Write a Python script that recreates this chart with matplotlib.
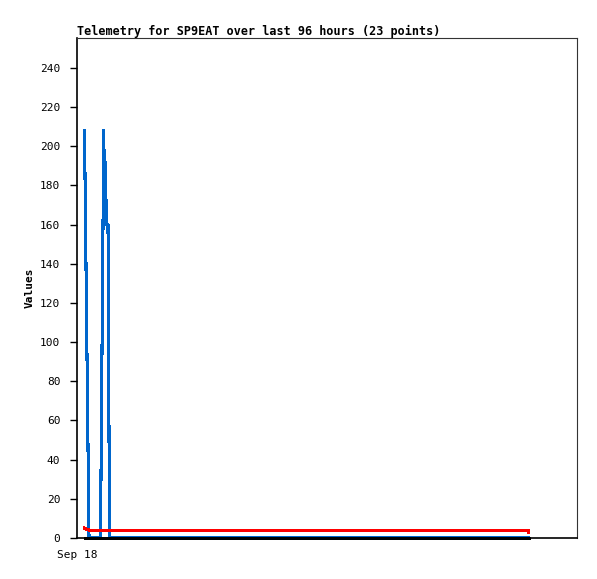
import matplotlib
matplotlib.use("Agg")
import matplotlib.pyplot as plt

# time in hours after Sep 18 00:00
hours = [1.5, 2.4, 4.7, 5.35, 5.5, 5.6, 5.75, 5.95, 6.2, 6.5, 90.2, 90.3]
blue = [208, 0, 0, 208, 173, 192, 176, 160, 160, 0, 0, 0]
red = [5, 4, 4, 4, 4, 4, 4, 4, 4, 4, 4, 3]
black = [0, 0, 0, 0, 0, 0, 0, 0, 0, 0, 0, 0]
xticks = [0]
xtick_labels = ["Sep 18"]
yticks = list(range(0, 241, 20))

plt.rcParams['font.family'] = 'DejaVu Sans Mono'

fig = plt.figure(figsize=(5.97, 5.79), dpi=100)
ax = fig.add_axes([77 / 597, 41 / 579, 500 / 597, 500 / 579])

ax.plot(hours, blue, color='#0066cc', lw=1.5, antialiased=False)
ax.plot(hours, red, color='#ff0000', lw=1.6, antialiased=False)
ax.plot(hours, black, color='#000000', lw=2.0, antialiased=False, clip_on=False, zorder=3)

ax.set_xlim(0, 100)
ax.set_ylim(0, 255.3)
ax.set_yticks(yticks)
ax.set_yticklabels([str(v) for v in yticks], fontsize=8)
ax.set_xticks(xticks)
ax.set_xticklabels(xtick_labels, fontsize=8)
ax.tick_params(direction='out', length=5, width=1)
ax.tick_params(axis='y', pad=7)
ax.tick_params(axis='x', length=0, pad=9)

ax.spines['left'].set_linewidth(1.2)
ax.spines['bottom'].set_linewidth(1.2)
ax.spines['top'].set_color('#333333')
ax.spines['right'].set_color('#333333')

ax.set_ylabel("Values", fontsize=8, fontweight='bold', labelpad=4)
fig.text(77 / 597, 1 - 31 / 579, "Telemetry for SP9EAT over last 96 hours (23 points)",
         fontsize=8.5, fontweight='bold', ha='left', va='center')

fig.savefig('out.png', dpi=100)
